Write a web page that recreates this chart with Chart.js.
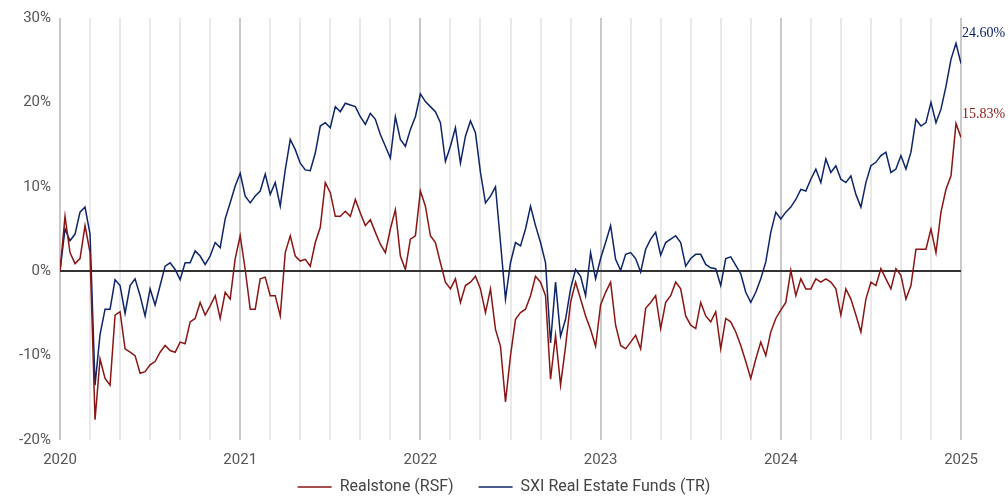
<!DOCTYPE html>
<html>
<head>
<meta charset="utf-8">
<script src="https://cdn.jsdelivr.net/npm/chart.js@4.4.1/dist/chart.umd.min.js"></script>
<style>
  html, body { margin: 0; padding: 0; background: #fff; }
  #wrap { width: 1008px; height: 498px; }
</style>
</head>
<body>
<div id="wrap"><canvas id="myChart"></canvas></div>
<script>
"use strict";

// one value every ~10 days (1/3 month), Jan 2020 - Jan 2025, cumulative performance in %
const seriesNames = ["Realstone (RSF)", "SXI Real Estate Funds (TR)"];
const yTicks = [-20, -10, 0, 10, 20, 30];
const startYear = 2020;

const realstone = [
  0.0, 6.5, 2.2, 0.9, 1.5, 5.4, 2.2, -17.6, -10.4, -12.7,
  -13.5, -5.2, -4.8, -9.2, -9.6, -10.0, -12.1, -11.9, -11.1, -10.7,
  -9.6, -8.8, -9.4, -9.6, -8.4, -8.6, -6.0, -5.6, -3.7, -5.2,
  -4.1, -2.9, -5.6, -2.5, -3.3, 1.5, 4.2, 0.2, -4.5, -4.5,
  -0.9, -0.7, -2.9, -2.9, -5.3, 2.2, 4.2, 1.8, 1.2, 1.4,
  0.6, 3.4, 5.2, 10.5, 9.3, 6.5, 6.5, 7.1, 6.5, 8.5,
  6.9, 5.4, 6.1, 4.6, 3.2, 2.2, 5.0, 7.3, 1.8, 0.2,
  3.8, 4.2, 9.5, 7.7, 4.2, 3.4, 1.0, -1.3, -2.1, -0.9,
  -3.7, -1.7, -1.3, -0.6, -2.1, -4.9, -2.1, -6.9, -8.9, -15.5,
  -10.0, -5.7, -4.9, -4.5, -2.9, -0.6, -1.3, -2.9, -12.8, -7.6,
  -13.5, -8.9, -3.7, -1.3, -3.3, -5.3, -6.9, -8.9, -4.0, -2.5,
  -1.3, -6.4, -8.8, -9.2, -8.4, -7.6, -9.2, -4.4, -3.7, -2.9,
  -6.8, -3.7, -2.9, -1.3, -2.1, -5.3, -6.4, -6.8, -3.7, -5.3,
  -6.0, -4.8, -9.2, -5.6, -6.0, -7.2, -8.8, -10.7, -12.7, -10.4,
  -8.4, -10.0, -7.2, -5.6, -4.6, -3.7, 0.1, -2.9, -0.9, -2.1,
  -2.1, -0.9, -1.3, -0.9, -1.3, -2.1, -5.2, -2.1, -3.3, -5.2,
  -7.2, -3.3, -1.3, -1.7, 0.3, -0.9, -2.1, 0.3, -0.5, -3.3,
  -1.7, 2.6, 2.6, 2.6, 5.0, 2.2, 7.0, 9.7, 11.3, 17.5,
  15.83
];

const sxiFunds = [
  0.0, 5.0, 3.6, 4.4, 7.0, 7.6, 4.4, -13.5, -7.5, -4.5,
  -4.5, -1.0, -1.7, -5.0, -1.7, -0.9, -2.9, -5.3, -2.1, -4.0,
  -1.7, 0.6, 1.0, 0.2, -1.0, 1.0, 1.0, 2.4, 1.8, 0.8,
  1.8, 3.4, 2.8, 6.2, 8.1, 10.1, 11.6, 8.9, 8.1, 8.9,
  9.5, 11.5, 9.1, 10.5, 7.7, 12.0, 15.6, 14.4, 12.8, 12.0,
  11.9, 14.0, 17.2, 17.6, 17.0, 19.5, 18.9, 19.9, 19.7, 19.5,
  18.3, 17.4, 18.7, 18.0, 16.2, 14.8, 13.4, 18.3, 15.6, 14.8,
  16.8, 18.3, 21.0, 20.1, 19.5, 18.9, 17.6, 13.0, 14.8, 17.0,
  12.8, 16.0, 17.8, 16.4, 11.7, 8.1, 8.9, 10.0, 3.4, -3.3,
  1.0, 3.4, 3.0, 5.0, 7.7, 5.4, 3.4, 1.0, -8.5, -1.3,
  -7.7, -5.7, -2.1, 0.2, -0.6, -2.9, 2.2, -0.9, 1.5, 3.4,
  5.4, 1.4, 0.1, 2.0, 2.2, 1.5, -0.1, 2.6, 3.8, 4.6,
  1.9, 3.4, 3.8, 4.2, 3.4, 0.6, 1.5, 2.0, 2.0, 0.8,
  0.4, 0.3, -1.7, 1.5, 1.7, 0.7, -0.3, -2.5, -3.7, -2.5,
  -0.9, 1.1, 4.6, 7.0, 6.2, 7.0, 7.6, 8.5, 9.7, 9.5,
  10.9, 12.1, 10.5, 13.3, 11.7, 12.5, 10.9, 10.5, 11.3, 9.1,
  7.6, 10.5, 12.5, 12.9, 13.7, 14.1, 11.7, 12.1, 13.7, 12.1,
  14.1, 18.0, 17.2, 17.6, 20.0, 17.6, 19.2, 21.9, 25.1, 27.0,
  24.60
];

const colors = ["#8a1515", "#0e2468"];

// x position in months since Jan 2020
function toPoints(values) {
  return values.map((v, i) => ({ x: i / 3, y: v }));
}

// end labels next to the last point of each line
const endLabels = {
  id: "endLabels",
  afterDatasetsDraw(chart) {
    const ctx = chart.ctx;
    const yScale = chart.scales.y;
    ctx.save();
    ctx.font = "14px 'Liberation Serif', 'Times New Roman', serif";
    ctx.textAlign = "left";
    ctx.textBaseline = "alphabetic";
    chart.data.datasets.forEach((ds, i) => {
      const meta = chart.getDatasetMeta(i);
      const last = meta.data[meta.data.length - 1];
      const vals = ds.data.slice(-3).map(p => p.y);
      const top = yScale.getPixelForValue(Math.max(...vals));
      const lastVal = ds.data[ds.data.length - 1].y;
      ctx.fillStyle = ds.borderColor;
      ctx.fillText(lastVal.toFixed(2) + "%", last.x + 1, top - 6);
    });
    ctx.restore();
  }
};

const config = {
  type: "line",
  data: {
    datasets: [
      {
        label: seriesNames[0],
        data: toPoints(realstone),
        borderColor: colors[0],
        backgroundColor: colors[0],
        borderWidth: 1.5,
        pointRadius: 0,
        pointStyle: "line",
        tension: 0,
      },
      {
        label: seriesNames[1],
        data: toPoints(sxiFunds),
        borderColor: colors[1],
        backgroundColor: colors[1],
        borderWidth: 1.5,
        pointRadius: 0,
        pointStyle: "line",
        tension: 0,
      },
    ],
  },
  options: {
    responsive: true,
    maintainAspectRatio: false,
    animation: false,
    layout: { padding: { top: 13, right: 0, left: 0, bottom: -7 } },
    plugins: {
      legend: {
        position: "bottom",
        labels: {
          usePointStyle: true,
          pointStyleWidth: 34,
          color: "#444",
          font: { family: "Roboto", size: 16 },
          padding: 25,
        },
      },
      tooltip: { enabled: false },
    },
    scales: {
      x: {
        type: "linear",
        min: 0,
        max: 60,
        ticks: {
          stepSize: 2,
          autoSkip: false,
          maxRotation: 0,
          padding: 11,
          color: "#555",
          font: { family: "Roboto", size: 15 },
          callback: v => (v % 12 === 0 ? String(startYear + v / 12) : ""),
        },
        grid: {
          drawTicks: false,
          lineWidth: 2,
          color: c => (c.tick && c.tick.value % 12 === 0 ? "#c9c9c9" : "#e9e9e9"),
        },
        border: { display: false },
        afterFit: s => {
          s.height = 14;
          // axis box is kept short, so let the year labels draw below it
          s._computeLabelArea = () => undefined;
        },
      },
      y: {
        min: yTicks[0],
        max: yTicks[yTicks.length - 1],
        afterBuildTicks: s => { s.ticks = yTicks.map(v => ({ value: v })); },
        ticks: {
          padding: 9,
          color: "#555",
          font: { family: "Roboto", size: 15 },
          callback: v => v + "%",
        },
        grid: {
          drawTicks: false,
          lineWidth: 2,
          color: c => (c.tick && c.tick.value === 0 ? "#333" : "rgba(0,0,0,0)"),
        },
        border: { display: false },
        afterFit: s => { s.width = 60; },
      },
      // empty right strip that holds the end labels
      yRight: {
        position: "right",
        grid: { display: false },
        ticks: { display: false },
        border: { display: false },
        afterFit: s => { s.width = 47; },
      },
    },
  },
  plugins: [endLabels],
};

new Chart(document.getElementById("myChart").getContext("2d"), config);
</script>
</body>
</html>
